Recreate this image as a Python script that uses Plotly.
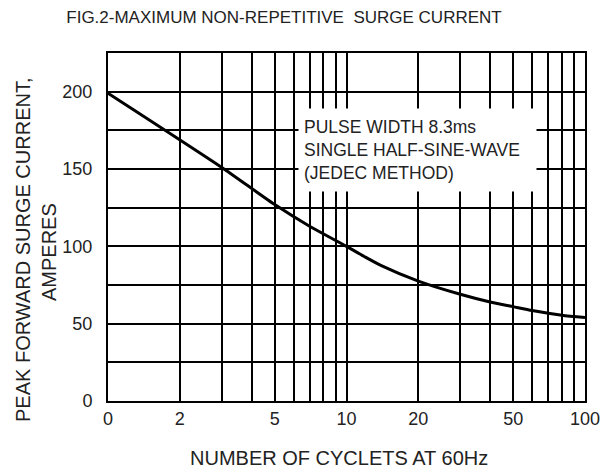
import plotly.graph_objects as go

# surge current curve
cycles = [1, 3, 5, 7, 10, 12, 14, 20, 30, 40, 50, 60, 80, 100]
amps = [199, 151, 127, 113, 100, 93, 87.5, 77.5, 69, 64, 61, 58.5, 55.5, 54]

x_grid = [1, 2, 3, 4, 5, 6, 7, 8, 9, 10, 20, 30, 40, 50, 60, 70, 80, 90, 100]
x_labels = ["0", "2", "", "", "5", "", "", "", "", "10", "20", "", "", "50", "", "", "", "", "100"]
y_grid = [0, 25, 50, 75, 100, 125, 150, 175, 200]
y_labels = ["0", "", "50", "", "100", "", "150", "", "200"]

FONT = "Liberation Sans, Arial, sans-serif"
INK = "#222222"

fig = go.Figure()
fig.add_trace(go.Scatter(
    x=cycles, y=amps, mode="lines",
    line=dict(color="black", width=3, shape="spline", smoothing=0.6),
    hoverinfo="skip", showlegend=False,
))

axis_common = dict(
    showline=True, linecolor="black", linewidth=2, mirror=True,
    showgrid=True, gridcolor="black", gridwidth=2,
    ticks="", zeroline=False, automargin=False,
    tickfont=dict(family=FONT, size=18, color=INK),
)

fig.update_xaxes(
    type="log", range=[0, 2],
    tickmode="array", tickvals=x_grid, ticktext=x_labels,
    **axis_common,
)
fig.update_yaxes(
    range=[0, 225],
    tickmode="array", tickvals=y_grid, ticktext=y_labels,
    ticklabelstandoff=10,
    **axis_common,
)

# axis titles as annotations so the two y-title lines can be placed freely
fig.add_annotation(
    xref="paper", yref="paper", x=0.5, y=0, xanchor="center", yanchor="middle",
    xshift=-8, yshift=-57, showarrow=False,
    text="NUMBER OF CYCLETS AT 60Hz",
    font=dict(family=FONT, size=20, color=INK),
)
fig.add_annotation(
    xref="paper", yref="paper", x=0, y=0.5, xanchor="center", yanchor="middle",
    xshift=-85, yshift=-23, textangle=-90, showarrow=False,
    text="PEAK FORWARD SURGE CURRENT,",
    font=dict(family=FONT, size=20, color=INK),
)
fig.add_annotation(
    xref="paper", yref="paper", x=0, y=0.5, xanchor="center", yanchor="middle",
    xshift=-59, yshift=-25, textangle=-90, showarrow=False,
    text="AMPERES",
    font=dict(family=FONT, size=20, color=INK),
)

fig.add_annotation(
    xref="paper", yref="paper", x=0.399, y=0.8425,
    xanchor="left", yanchor="top",
    text="PULSE WIDTH 8.3ms<br>SINGLE HALF-SINE-WAVE<br>(JEDEC METHOD)",
    showarrow=False, align="left", valign="middle",
    width=227, height=72, borderpad=5,
    bgcolor="white",
    font=dict(family=FONT, size=17.5, color=INK),
)

# page body adds an 8px margin, so the figure is 8px smaller than the window
fig.update_layout(
    width=603, height=461,
    margin=dict(l=100, r=26, t=45, b=68),
    paper_bgcolor="white", plot_bgcolor="white",
    title=dict(
        text="FIG.2-MAXIMUM NON-REPETITIVE&nbsp;&nbsp;SURGE CURRENT",
        font=dict(family=FONT, size=17, color=INK),
        x=0.4577, xanchor="center", y=0.9805, yanchor="middle",
    ),
)

fig.write_html("out.html")
